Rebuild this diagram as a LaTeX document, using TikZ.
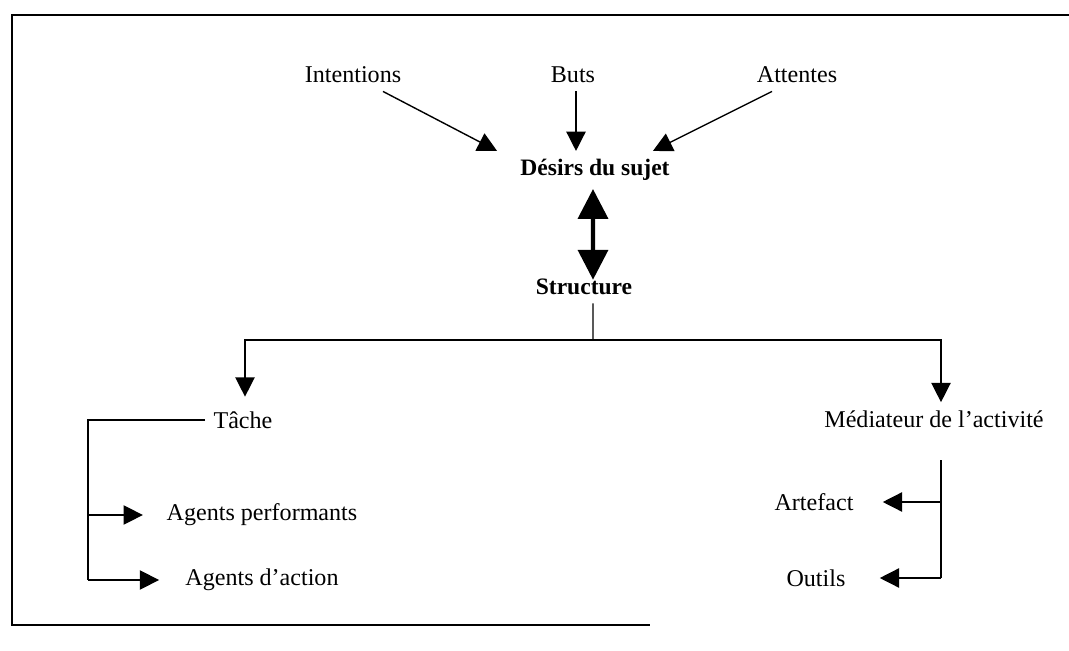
\documentclass[tikz,border=0pt]{standalone}
\usepackage{fontspec}
\setmainfont{Liberation Serif}
\usepackage{tikz}
\usetikzlibrary{arrows.meta}
\tikzstyle{term} = [inner sep=0.16cm, text centered, font=\fontsize{13.7}{16}\selectfont]
\tikzstyle{keyterm} = [inner sep=0.16cm, text centered, font=\fontsize{13.4}{16}\selectfont\bfseries]
\tikzstyle{line} = [line width=0.8pt]
\tikzstyle{arrow} = [line width=0.8pt, -{Triangle[length=11pt, width=11pt]}]
\tikzstyle{bigarrow} = [line width=2.3pt, {Triangle[length=17pt, width=17pt]}-{Triangle[length=17pt, width=17pt]}]

\begin{document}
\begin{tikzpicture}[node distance=2cm]
\useasboundingbox (0,0) rectangle (21.38,-13.02);

% Frame
\draw [line width=1.1pt] (21.38,-0.30) -- (0.24,-0.30) -- (0.24,-12.50) -- (13.0,-12.50);

% Nodes
\node (buts) [term] at (11.46,-1.50) {Buts};
\node (intent) [term, left of=buts, xshift=-2.4cm] {Intentions};
\node (attentes) [term, right of=buts, xshift=2.48cm] {Attentes};
\node (desirs) [keyterm, below of=buts, xshift=0.44cm, yshift=0.1cm] {Désirs du sujet};
\node (structure) [keyterm, below of=desirs, xshift=-0.22cm, yshift=-0.34cm] {Structure};
\node (tache) [term, below of=structure, xshift=-6.82cm, yshift=-0.66cm] {Tâche};
\node (mediateur) [term, below of=structure, xshift=7cm, yshift=-0.64cm] {Médiateur de l’activité};
\node (perf) [term, below of=tache, xshift=0.38cm, yshift=0.1cm] {Agents performants};
\node (action) [term, below of=perf, yshift=0.7cm] {Agents d’action};
\node (artefact) [term, below of=mediateur, xshift=-2.4cm, yshift=0.34cm] {Artefact};
\node (outils) [term, below of=artefact, xshift=0.04cm, yshift=0.48cm] {Outils};

\coordinate (split) at (11.86,-6.80);
\coordinate (tleft) at (1.76,-8.37);
\coordinate (mright) at (18.82,-9.20);

% Arrows
\draw [arrow] ([xshift=0.6cm]intent.south) -- ([xshift=-0.3cm]desirs.north west);
\draw [arrow] ([xshift=0.06cm]buts.south) -- ([xshift=-0.38cm]desirs.north);
\draw [arrow] ([xshift=-0.5cm]attentes.south) -- ([xshift=-0.5cm]desirs.north east);
\draw [bigarrow] ([xshift=-0.04cm]desirs.south) -- ([xshift=0.18cm, yshift=-0.18cm]structure.north);
\draw [line] ([xshift=0.18cm]structure.south) -- (split);
\draw [arrow] (split) -| ([xshift=0.04cm, yshift=0.13cm]tache.north);
\draw [arrow] (split) -| ([xshift=0.14cm]mediateur.north);
\draw [line] (tache.west) -| (tleft |- action);
\draw [arrow] (tleft |- perf) -- ([xshift=-0.31cm]perf.west);
\draw [arrow] (tleft |- action) -- ([xshift=-0.36cm]action.west);
\draw [line] (mright) -- (mright |- outils);
\draw [arrow] (mright |- artefact) -- ([xshift=0.42cm]artefact.east);
\draw [arrow] (mright |- outils) -- ([xshift=0.52cm]outils.east);

\end{tikzpicture}
\end{document}
